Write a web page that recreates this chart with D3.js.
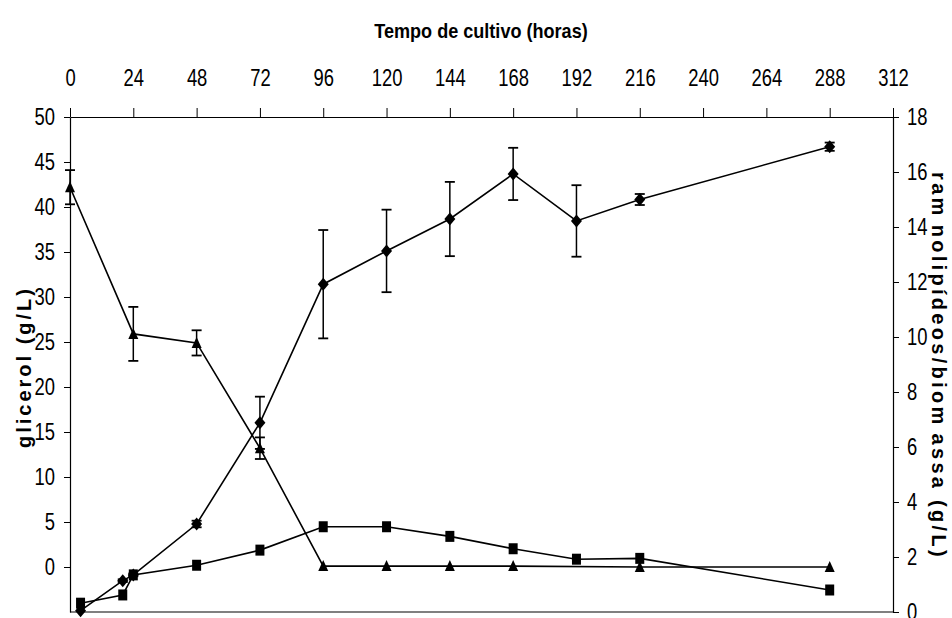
<!DOCTYPE html>
<html>
<head>
<meta charset="utf-8">
<script src="https://cdn.jsdelivr.net/npm/d3@7"></script>
<style>
  html, body { margin: 0; padding: 0; background: #fff; }
  svg { display: block; }
  .narrow { font-family: "Liberation Sans Narrow", "Arial Narrow", "Liberation Sans", sans-serif; }
</style>
</head>
<body>
<svg id="chart" width="952" height="618"></svg>
<script>
// Tempo de cultivo (h)
const hoursTicks = [0, 24, 48, 72, 96, 120, 144, 168, 192, 216, 240, 264, 288, 312];
const leftTicks = [0, 5, 10, 15, 20, 25, 30, 35, 40, 45, 50];
const rightTicks = [0, 2, 4, 6, 8, 10, 12, 14, 16, 18];

// Glicerol (g/L) – eixo esquerdo
const glicerolHoras = [0, 24, 48, 72, 96, 120, 144, 168, 216, 288];
const glicerolValores = [42.2, 25.9, 24.9, 13.2, 0.1, 0.1, 0.1, 0.1, 0, 0];
const glicerolErro = [1.9, 3.0, 1.4, 1.2, 0, 0, 0, 0, 0, 0];

// Ramnolipídeos (g/L) – eixo direito
const ramnoHoras = [4, 20, 24, 48, 72, 96, 120, 144, 168, 192, 216, 288];
const ramnoValores = [0.05, 1.14, 1.35, 3.2, 6.88, 11.92, 13.13, 14.29, 15.93, 14.22, 15.0, 16.92];
const ramnoErro = [0, 0.05, 0.05, 0.12, 0.95, 1.97, 1.5, 1.35, 0.95, 1.3, 0.2, 0.15];

// Biomassa (g/L) – eixo direito
const biomassaHoras = [4, 20, 24, 48, 72, 96, 120, 144, 168, 192, 216, 288];
const biomassaValores = [0.32, 0.62, 1.35, 1.7, 2.25, 3.1, 3.1, 2.75, 2.3, 1.92, 1.95, 0.8];

const svg = d3.select("#chart");
const plotLeft = 70, plotRight = 893, plotTop = 117, plotBottom = 612;

const x = d3.scaleLinear().domain([0, 312]).range([plotLeft, plotRight]);
const yL = d3.scaleLinear().domain([-5, 50]).range([plotBottom, plotTop]);
const yR = d3.scaleLinear().domain([0, 18]).range([plotBottom, plotTop]);

// condensed look for texts when no narrow face is installed
function condense(sel, k) {
  sel.each(function () {
    const w = this.getComputedTextLength();
    d3.select(this).attr("textLength", w * k).attr("lengthAdjust", "spacingAndGlyphs");
  });
}

// bottom frame line
svg.append("line")
  .attr("x1", plotLeft).attr("x2", plotRight)
  .attr("y1", plotBottom).attr("y2", plotBottom)
  .attr("stroke", "#808080").attr("stroke-width", 2);

function styleAxis(g) {
  g.select(".domain").attr("stroke", "#000").attr("stroke-width", 1.2);
  g.selectAll(".tick line").attr("stroke", "#000").attr("stroke-width", 1);
  const t = g.selectAll(".tick text")
    .attr("class", "narrow")
    .attr("fill", "#000")
    .style("font-size", "23px");
  condense(t, 0.8);
}

const axTop = svg.append("g")
  .attr("transform", `translate(0,${plotTop})`)
  .call(d3.axisTop(x).tickValues(hoursTicks).tickSize(9).tickPadding(22).tickSizeOuter(0));
styleAxis(axTop);

const axLeft = svg.append("g")
  .attr("transform", `translate(${plotLeft},0)`)
  .call(d3.axisLeft(yL).tickValues(leftTicks).tickSize(6).tickPadding(9).tickSizeOuter(0));
styleAxis(axLeft);

const axRight = svg.append("g")
  .attr("transform", `translate(${plotRight},0)`)
  .call(d3.axisRight(yR).tickValues(rightTicks).tickSize(6).tickPadding(8).tickSizeOuter(0));
styleAxis(axRight);

// titles
const xTitle = svg.append("text")
  .attr("class", "narrow")
  .attr("x", 481).attr("y", 38)
  .attr("text-anchor", "middle")
  .style("font-size", "21px").style("font-weight", "bold")
  .text("Tempo de cultivo (horas)");
condense(xTitle, 0.86);

svg.append("text")
  .attr("transform", "translate(31,367) rotate(-90)")
  .attr("text-anchor", "middle")
  .style("font-family", "Liberation Sans, Arial, sans-serif")
  .style("font-size", "20px").style("font-weight", "bold")
  .style("letter-spacing", "3px")
  .text("glicerol (g/L)");

const rTitle = svg.append("text")
  .attr("transform", "translate(932,366) rotate(90)")
  .attr("text-anchor", "middle")
  .style("font-family", "Liberation Sans, Arial, sans-serif")
  .style("font-size", "20px").style("font-weight", "bold")
  .style("letter-spacing", "3.3px");
rTitle.append("tspan").text("ram");
rTitle.append("tspan").attr("dx", 6).text("nolipídeos/biom");
rTitle.append("tspan").attr("dx", 6).text("assa (g/L)");

// marker shapes
const diamond = { draw(ctx, s) { ctx.moveTo(0, -6.5); ctx.lineTo(5.5, 0); ctx.lineTo(0, 6.5); ctx.lineTo(-5.5, 0); ctx.closePath(); } };
const triangle = { draw(ctx, s) { ctx.moveTo(0, -6); ctx.lineTo(5, 5); ctx.lineTo(-5, 5); ctx.closePath(); } };
const square = { draw(ctx, s) { ctx.rect(-4.5, -5.5, 9, 11); } };

function series(hours, vals, errs, yScale, shape) {
  const pts = hours.map((h, i) => ({ h, v: vals[i], e: errs ? errs[i] : 0 }));
  const g = svg.append("g");
  g.append("path")
    .datum(pts)
    .attr("fill", "none").attr("stroke", "#000").attr("stroke-width", 1.6)
    .attr("d", d3.line().x(d => x(d.h)).y(d => yScale(d.v)));
  const eb = g.selectAll(".err").data(pts.filter(d => d.e > 0)).enter().append("g");
  eb.append("line")
    .attr("x1", d => x(d.h)).attr("x2", d => x(d.h))
    .attr("y1", d => yScale(d.v - d.e)).attr("y2", d => yScale(d.v + d.e))
    .attr("stroke", "#000").attr("stroke-width", 1.5);
  [-1, 1].forEach(sgn => {
    eb.append("line")
      .attr("x1", d => x(d.h) - 5).attr("x2", d => x(d.h) + 5)
      .attr("y1", d => yScale(d.v + sgn * d.e)).attr("y2", d => yScale(d.v + sgn * d.e))
      .attr("stroke", "#000").attr("stroke-width", 1.8);
  });
  g.selectAll(".mk").data(pts).enter().append("path")
    .attr("transform", d => `translate(${x(d.h)},${yScale(d.v)})`)
    .attr("d", d3.symbol().type(shape))
    .attr("fill", "#000");
}

series(glicerolHoras, glicerolValores, glicerolErro, yL, triangle);
series(biomassaHoras, biomassaValores, null, yR, square);
series(ramnoHoras, ramnoValores, ramnoErro, yR, diamond);
</script>
</body>
</html>
